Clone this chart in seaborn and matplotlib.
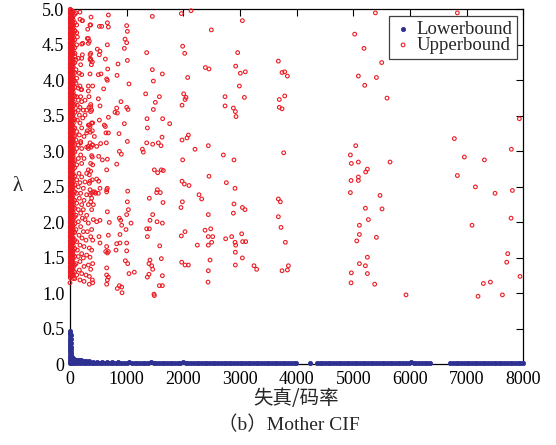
import numpy as np
import pandas as pd
import matplotlib
matplotlib.use("Agg")
import matplotlib.pyplot as plt
import seaborn as sns

RED = "#ED1C24"
BLUE = "#2E3192"

x_ticks = [0, 1000, 2000, 3000, 4000, 5000, 6000, 7000, 8000]
y_ticks = [0, 0.5, 1.0, 1.5, 2.0, 2.5, 3.0, 3.5, 4.0, 4.5, 5.0]
y_tick_labels = ["0", "0.5", "1.0", "1.5", "2.0", "2.5", "3.0", "3.5", "4.0", "4.5", "5.0"]
series_names = ["Lowerbound", "Upperbound"]

# ---- Upperbound: saturated band near distortion/rate = 0 (read column by column)
dense_col_x = [5, 15, 30, 44, 58, 85]
dense_col_a = [5.00, 4.96, 4.93, 4.89, 4.86, 4.82, 4.79, 4.75, 4.72, 4.68, 4.65, 4.61, 4.58, 4.54,
               4.51, 4.47, 4.44, 4.40, 4.37, 4.33, 4.30, 4.26, 4.23, 4.19, 4.16, 4.12, 4.09, 4.05,
               4.02, 3.98, 3.95, 3.91, 3.88, 3.84, 3.81, 3.77, 3.74, 3.70, 3.67, 3.63, 3.60, 3.56,
               3.53, 3.49, 3.46, 3.42, 3.39, 3.35, 3.32, 3.28, 3.25, 3.21, 3.18, 3.14, 3.11, 3.07,
               3.04, 3.00, 2.97, 2.93, 2.90, 2.86, 2.83, 2.79, 2.76, 2.72, 2.69, 2.65, 2.62, 2.58,
               2.55, 2.51, 2.48, 2.44, 2.41, 2.37, 2.34, 2.30, 2.27, 2.23, 2.20, 2.16, 2.13, 2.09,
               2.06, 2.02, 1.99, 1.95, 1.92, 1.88, 1.85, 1.81, 1.78, 1.74, 1.71, 1.67, 1.64, 1.60,
               1.57, 1.53, 1.50, 1.46, 1.43, 1.39, 1.36, 1.32, 1.29, 1.25, 1.22]
dense_col_e = [4.99, 4.94, 4.89, 4.84, 4.79, 4.74, 4.69, 4.64, 4.59, 4.54, 4.49, 4.44, 4.39, 4.34,
               4.29, 4.24, 4.19, 4.14, 4.09, 4.04, 3.99, 3.94, 3.89, 3.84, 3.79, 3.74, 3.69, 3.64,
               3.59, 3.54, 3.49, 3.44, 3.39, 3.34, 3.29, 3.24, 3.19, 3.14, 3.09, 3.04, 2.99, 2.94,
               2.89, 2.84, 2.79, 2.74, 2.69, 2.64, 2.59, 2.54, 2.49, 2.44, 2.39, 2.34, 2.29, 2.24,
               2.19, 2.14, 2.09, 2.04, 1.99, 1.94, 1.89, 1.84, 1.79, 1.74, 1.69, 1.64, 1.59, 1.54,
               1.49, 1.44, 1.39, 1.34, 1.29, 1.24]
dense_col_b = [4.98, 4.94, 4.91, 4.87, 4.84, 4.80, 4.77, 4.73, 4.70, 4.66, 4.63, 4.59, 4.56, 4.52,
               4.49, 4.45, 4.42, 4.38, 4.35, 4.31, 4.28, 4.24, 4.21, 4.17, 4.14, 4.10, 4.07, 4.03,
               4.00, 3.96, 3.93, 3.89, 3.86, 3.82, 3.79, 3.75, 3.72, 3.68, 3.65, 3.61, 3.58, 3.54,
               3.51, 3.47, 3.44, 3.40, 3.37, 3.33, 3.30, 3.26, 3.23, 3.19, 3.16, 3.12, 3.09, 3.05,
               3.02, 2.98, 2.95, 2.91, 2.88, 2.84, 2.81, 2.77, 2.74, 2.70, 2.67, 2.63, 2.60, 2.56,
               2.53, 2.49, 2.46, 2.42, 2.39, 2.35, 2.32, 2.28, 2.25, 2.21, 2.18, 2.14, 2.11, 2.07,
               2.04, 2.00, 1.97, 1.93, 1.90, 1.86, 1.83, 1.79, 1.76, 1.72, 1.69, 1.65, 1.62, 1.58,
               1.55, 1.51, 1.48, 1.44, 1.41, 1.37, 1.34, 1.30, 1.27, 1.24]
dense_col_f = [4.95, 4.88, 4.82, 4.76, 4.69, 4.63, 4.57, 4.50, 4.44, 4.38, 4.31, 4.25, 4.19, 4.12,
               4.06, 4.00, 3.93, 3.87, 3.81, 3.74, 3.68, 3.62, 3.55, 3.49, 3.43, 3.36, 3.30, 3.24,
               3.17, 3.11, 3.05, 2.98, 2.92, 2.86, 2.79, 2.73, 2.67, 2.60, 2.54, 2.48, 2.41, 2.35,
               2.29, 2.22, 2.16, 2.10, 2.03, 1.97, 1.91, 1.84, 1.78, 1.72, 1.65, 1.59, 1.53, 1.46,
               1.40, 1.34, 1.27]
dense_col_c = [4.97, 4.91, 4.85, 4.78, 4.73, 4.66, 4.60, 4.55, 4.48, 4.42, 4.37, 4.30, 4.24, 4.19,
               4.12, 4.06, 4.01, 3.94, 3.88, 3.83, 3.76, 3.70, 3.64, 3.58, 3.52, 3.47, 3.40, 3.34,
               3.29, 3.22, 3.16, 3.11, 3.04, 2.98, 2.93, 2.86, 2.80, 2.75, 2.68, 2.62, 2.57, 2.50,
               2.44, 2.39, 2.32, 2.26, 2.21, 2.14, 2.08, 2.03, 1.96, 1.90, 1.85, 1.78, 1.72, 1.67,
               1.60, 1.54, 1.49, 1.42, 1.36, 1.31, 1.25]
dense_col_d = [4.93, 4.81, 4.70, 4.57, 4.46, 4.34, 4.25, 4.11, 3.99, 3.90, 3.78, 3.66, 3.55, 3.45,
               3.33, 3.22, 3.10, 2.99, 2.87, 2.77, 2.65, 2.53, 2.43, 2.31, 2.20, 2.08, 1.98, 1.86,
               1.75, 1.63, 1.52, 1.40, 1.30, 1.21]
dense_cols_y = [dense_col_a, dense_col_e, dense_col_b, dense_col_f, dense_col_c, dense_col_d]

# ---- Upperbound: individual points
upper_x = [
    176, 371, 677, 218, 365, 518, 559, 659, 677, 1000, 1012, 1453, 1965, 2136, 3042, 2494,
    306, 324, 206, 659, 971, 1000, 959, 482, 529, 518, 353, 353, 365, 624, 206, 1353, 1988, 2024, 2959,
    847, 1012, 377, 665, 547, 500, 353, 647, 659, 830, 1041, 1453, 1630, 1471, 2077, 2389, 2453, 2924,
    3006, 3094, 2989, 3677,
    324, 194, 594, 500, 335, 365, 529, 382, 900, 824, 794, 835, 1000, 1024, 1335, 1506, 1577, 1471,
    2006, 2030, 2047, 1977, 2736, 2736, 2883, 2918, 2930, 3077, 3694, 3694,
    677, 518, 341, 306, 359, 400, 606, 624, 635, 677, 429, 353, 471, 541, 371, 865, 959, 1359, 1635,
    1759, 1365, 871, 906, 1012, 641, 506, 571, 382, 659, 824, 647, 1277, 1294, 1353, 1459, 1559, 1606,
    1624, 1977, 2089, 2065, 2206, 2441, 1988, 2706, 2894, 1647, 1488, 1547, 1612, 2453, 2759, 2912,
    1977, 2018, 2100, 353, 341, 471, 659, 647, 406, 453, 1018, 1541, 1530, 1594, 2277, 2324,
    5389, 6836, 5024, 5189, 3742, 3789, 3836, 5501, 5089, 5407, 5201, 3789, 3742, 5595, 7930, 3771,
    6783, 5042, 4948, 4965, 5089, 5648, 6960, 7313, 7789, 6836, 5248, 5218, 5089, 5089, 4960, 7154,
    7501, 7807, 4948, 5471, 3677,
    3712, 3677, 3724, 3801, 3742, 3836, 3854, 5213, 5507, 5266, 5107, 5107, 5060, 5407, 5248, 5107,
    5213, 4965, 5248, 4960, 5377, 5930, 7095, 7784, 7725, 7707, 7942, 7419, 7295, 7201, 7631,
    1012, 1030, 1000, 871, 894, 912, 988, 1077, 882, 824, 882, 812, 1000, 1000, 977, 1018, 1041, 1135,
    871, 835, 912, 918, 659, 694, 677, 647, 630, 677, 659, 647, 647, 677, 659, 647, 529, 512, 529, 471,
    412, 382, 353, 435, 500, 529, 647, 506, 1353, 1400, 1365, 1400, 1459, 1412, 1536, 1630, 1641, 1583,
    1612, 1412, 1394, 1441, 1459, 1394, 1365, 1577, 1630, 1630, 1482, 1488, 1983, 1959, 2030, 1965,
    1971, 2030, 2089, 2247, 2441, 2383, 2483, 2441, 2518, 2500, 2441, 2471, 2441, 2436, 2894, 2883,
    2747, 2853, 2912, 2924, 2918, 2918, 3042, 3089, 3030, 3047, 3100, 3042, 3247, 3294,
    106, 176, 218, 118, 88, 118, 130, 312, 353, 324, 341, 224, 118, 88, 218, 147, 106, 365, 365, 394,
    188, 106, 165, 206, 118, 106, 176, 147, 206, 188, 118, 147, 130, 206, 265, 324, 400, 335, 365, 176,
    147, 235, 294, 365, 165, 265, 224, 130, 176, 324, 353, 382, 394, 206, 118, 165, 247, 294, 106, 188,
    147, 324, 400, 206, 118,
    188, 294, 394, 188, 147, 247, 394, 324, 206, 118, 365, 400, 324, 159, 294, 365, 206, 118, 394, 176,
    265, 341, 147, 235, 353, 118, 188, 294, 382, 165, 247, 365, 118, 206, 324, 147, 235, 382, 188, 106,
    294, 218, 412, 147, 265, 324, 188, 382, 106, 235, 306, 159, 365, 212, 282, 118, 400, 176, 247, 341,
    130, 206, 382, 294, 147, 235, 353, 176, 400, 324, 106, 247, 165, 365, 206, 118, 282, 341, 176, 394,
    247, 341, 400, 59, 0,
]
upper_y = [
    4.96, 4.89, 4.92, 4.84, 4.78, 4.76, 4.76, 4.81, 4.75, 4.77, 4.69, 4.90, 4.94, 4.98, 4.84, 4.71,
    4.59, 4.52, 4.51, 4.50, 4.58, 4.53, 4.45, 4.44, 4.41, 4.36, 4.36, 4.30, 4.28, 4.30, 4.31, 4.39, 4.48, 4.38, 4.39,
    4.23, 4.28, 4.22, 4.16, 4.09, 4.08, 4.09, 4.02, 4.00, 4.07, 3.95, 4.15, 4.09, 3.99, 4.04, 4.18, 4.16, 4.20,
    4.10, 4.12, 3.92, 4.27,
    3.92, 3.87, 3.88, 3.74, 3.77, 3.66, 3.64, 3.58, 3.70, 3.61, 3.55, 3.54, 3.62, 3.59, 3.81, 3.69, 3.77, 3.59,
    3.81, 3.73, 3.76, 3.65, 3.77, 3.64, 3.61, 3.56, 3.49, 3.76, 3.73, 3.62,
    3.48, 3.44, 3.37, 3.29, 3.27, 3.40, 3.37, 3.35, 3.26, 3.26, 3.21, 3.12, 3.07, 3.11, 3.06, 3.25, 3.39, 3.46, 3.46,
    3.39, 3.33, 3.00, 2.96, 3.14, 3.12, 2.93, 2.88, 2.94, 2.89, 2.82, 2.74, 3.03, 2.99, 3.12, 3.10, 3.12, 3.08,
    3.20, 3.16, 3.23, 3.19, 3.03, 3.08, 2.88, 2.95, 2.88, 2.73, 2.74, 2.70, 2.74, 2.65, 2.56, 2.48,
    2.58, 2.54, 2.52, 2.58, 2.67, 2.61, 2.48, 2.43, 2.43, 2.41, 2.44, 2.46, 2.42, 2.42, 2.39, 2.33,
    4.95, 4.95, 4.65, 4.45, 4.11, 4.12, 4.06, 4.25, 4.06, 4.04, 3.93, 3.78, 3.60, 3.75, 3.46, 2.98,
    3.18, 3.08, 2.95, 2.83, 2.85, 2.85, 2.92, 2.88, 3.03, 2.66, 2.75, 2.71, 2.64, 2.59, 2.59, 2.50,
    2.41, 2.45, 2.42, 2.38, 2.33,
    2.29, 2.08, 1.93, 1.72, 1.32, 1.33, 1.39, 2.20, 2.19, 2.04, 1.96, 1.83, 1.74, 1.79, 1.51, 1.42,
    1.39, 1.29, 1.28, 1.15, 1.13, 0.98, 1.96, 2.06, 1.56, 1.44, 1.24, 1.16, 1.14, 0.96, 0.98,
    2.29, 2.18, 2.11, 2.06, 2.03, 1.96, 1.90, 1.99, 1.83, 1.70, 1.71, 1.61, 1.71, 1.60, 1.46, 1.42, 1.28, 1.30,
    1.11, 1.07, 1.09, 1.01, 2.15, 2.00, 1.82, 1.66, 1.59, 1.59, 1.57, 1.36, 1.26, 1.23, 1.19, 1.13, 1.71, 1.80, 2.03, 2.01,
    2.25, 2.34, 2.39, 2.43, 2.41, 2.48, 2.46, 2.58, 1.91, 1.91, 1.80, 2.34, 2.11, 2.03, 2.01, 1.99, 2.28, 1.67,
    1.49, 1.47, 1.42, 1.39, 1.34, 1.27, 1.23, 1.11, 1.11, 1.25, 0.99, 0.97, 2.29, 2.21, 1.87, 1.81,
    1.44, 1.40, 1.40, 1.68, 2.11, 1.89, 1.91, 1.80, 1.80, 1.72, 1.68, 1.47, 1.32, 1.16, 2.26, 2.13,
    1.77, 1.80, 1.72, 1.68, 1.58, 1.40, 2.21, 2.18, 1.84, 1.73, 1.73, 1.50, 1.39, 1.34,
    4.95, 4.86, 4.84, 4.78, 4.69, 4.67, 4.61, 4.72, 4.78, 4.59, 4.55, 4.52, 4.50, 4.38, 4.36, 4.31, 4.29, 4.38, 4.30, 4.26,
    4.22, 4.15, 4.10, 4.08, 4.03, 3.96, 3.92, 3.89, 3.87, 3.77, 3.77, 3.72, 3.65, 3.70, 3.72, 3.85, 3.92, 3.62, 3.63, 3.62,
    3.58, 3.58, 3.58, 3.56, 3.51, 3.51, 3.47, 3.44, 3.40, 3.37, 3.35, 3.40, 3.29, 3.33, 3.28, 3.23, 3.21, 3.26, 3.16, 3.14,
    3.09, 3.07, 3.09, 3.04, 3.04,
    3.12, 3.06, 3.09, 2.95, 2.90, 2.90, 2.92, 3.04, 2.83, 2.81, 2.83, 2.81, 2.74, 2.69, 2.69, 2.72, 2.64, 2.60, 2.60, 2.56,
    2.57, 2.55, 2.50, 2.48, 2.46, 2.41, 2.41, 2.39, 2.41, 2.34, 2.31, 2.29, 2.27, 2.25, 2.25, 2.18, 2.18, 2.18, 2.13, 2.10,
    2.10, 2.06, 2.04, 2.01, 2.04, 1.99, 1.94, 1.90, 1.90, 1.87, 1.87, 1.82, 1.80, 1.78, 1.75, 1.73, 1.75, 1.68, 1.66, 1.64,
    1.61, 1.56, 1.61, 1.54, 1.52, 1.50, 1.51, 1.45, 1.42, 1.40, 1.42, 1.38, 1.33, 1.34, 1.28, 1.26, 1.26, 1.24, 1.19, 1.19,
    1.17, 1.13, 1.15, 1.21, 1.15,
]

# ---- Lowerbound
lower_x = [
    0, 0, 0, 0, 0, 0, 0, 0, 0, 0, 0, 0, 0, 0, 0, 0,
    10, 10, 10, 10, 10, 10, 10, 10, 20, 20, 20, 20,
    30, 42, 55, 70, 90, 115, 140, 170, 200, 240, 280, 330, 400, 480, 560, 650, 750, 850,
    30, 55, 90, 140, 200,
    45, 95, 140, 190, 240, 285, 335, 380, 430, 475, 525, 570, 620, 665, 715, 760, 810, 855, 905, 950,
    1000, 1045, 1095, 1140, 1190, 1235, 1285, 1330, 1380, 1425, 1475, 1520, 1570, 1615, 1665, 1710,
    1760, 1805, 1855, 1900, 1950, 1995, 2045, 2090, 2140, 2185, 2235, 2280, 2330, 2375, 2425, 2470,
    2520, 2565, 2615, 2660, 2710, 2755, 2805, 2850, 2900, 2945, 2995, 3040, 3090, 3135, 3185, 3230,
    3280, 3325, 3375, 3420, 3470, 3515, 3565, 3610, 3660, 3705, 3755, 3800, 3850, 3895, 3945, 3985,
    4235, 4360, 4405, 4455, 4500, 4550, 4595, 4645, 4690, 4740, 4785, 4835, 4880, 4930, 4975, 5025,
    5070, 5120, 5165, 5215, 5260, 5310, 5355, 5405, 5450, 5500, 5545, 5595, 5640, 5690, 5735, 5785,
    5830, 5880, 5925, 5975, 6020, 6070, 6115, 6165, 6210, 6260, 6305, 6345, 6715, 6760, 6810, 6855,
    6905, 6950, 7000, 7045, 7095, 7140, 7190, 7235, 7285, 7330, 7380, 7425, 7475, 7520, 7570, 7615,
    7665, 7710, 7760, 7805, 7855, 7900, 7950, 7995,
]
lower_y = [
    0.47, 0.44, 0.41, 0.38, 0.35, 0.32, 0.29, 0.26, 0.23, 0.20, 0.17, 0.14, 0.11, 0.08, 0.05, 0.02,
    0.42, 0.36, 0.30, 0.24, 0.18, 0.12, 0.07, 0.02, 0.22, 0.15, 0.08, 0.02,
    0.10, 0.085, 0.08, 0.075, 0.07, 0.07, 0.065, 0.06, 0.06, 0.055, 0.05, 0.045, 0.04, 0.04, 0.035, 0.035, 0.03, 0.03,
    0.05, 0.04, 0.04, 0.035, 0.035,
    0.02, 0.02, 0.02, 0.02, 0.02, 0.02, 0.018, 0.018, 0.018, 0.018, 0.018, 0.018, 0.016, 0.016, 0.016, 0.016, 0.016, 0.016, 0.016, 0.016,
    0.025, 0.03, 0.02, 0.016, 0.016, 0.016, 0.016, 0.016, 0.025, 0.03, 0.025, 0.016, 0.016, 0.016, 0.016, 0.016,
    0.016, 0.016, 0.016, 0.016, 0.025, 0.03, 0.016, 0.016, 0.016, 0.016, 0.016, 0.016, 0.016, 0.025, 0.025, 0.016,
    0.016, 0.016, 0.016, 0.016, 0.016, 0.016, 0.016, 0.016, 0.016, 0.02, 0.016, 0.016, 0.016, 0.016, 0.016, 0.016,
    0.016, 0.016, 0.016, 0.016, 0.016, 0.016, 0.016, 0.016, 0.016, 0.016, 0.016, 0.016, 0.016, 0.016, 0.016, 0.016,
    0.016, 0.016, 0.016, 0.016, 0.016, 0.016, 0.016, 0.016, 0.016, 0.016, 0.016, 0.016, 0.016, 0.016, 0.016, 0.016,
    0.016, 0.016, 0.016, 0.016, 0.016, 0.016, 0.016, 0.016, 0.016, 0.016, 0.016, 0.016, 0.016, 0.016, 0.016, 0.016,
    0.016, 0.016, 0.016, 0.025, 0.03, 0.025, 0.016, 0.016, 0.025, 0.016, 0.016, 0.016, 0.016, 0.016, 0.016, 0.016,
    0.016, 0.016, 0.02, 0.016, 0.016, 0.016, 0.016, 0.016, 0.016, 0.016, 0.016, 0.016, 0.016, 0.016, 0.016, 0.016,
    0.016, 0.016, 0.016, 0.016, 0.016, 0.016, 0.016, 0.016,
]

# ---- build tables
dense_x_all, dense_y_all = [], []
for cx, cy in zip(dense_col_x, dense_cols_y):
    dense_x_all += [cx] * len(cy)
    dense_y_all += cy
upper_df = pd.DataFrame({"x": dense_x_all + upper_x, "y": dense_y_all + upper_y})
lower_df = pd.DataFrame({"x": lower_x, "y": lower_y})

sns.set_theme(style="white")
plt.rcParams["font.family"] = ["Liberation Serif", "Noto Sans CJK SC"]

fig = plt.figure(figsize=(5.56, 4.45), dpi=100)
ax = fig.add_axes([0.1259, 0.1809, 0.8153, 0.7982])

sns.scatterplot(data=upper_df, x="x", y="y", ax=ax, marker="o", s=7, color=RED,
                facecolor="none", edgecolor=RED, linewidth=0.8, clip_on=False,
                label=series_names[1], zorder=3)
sns.scatterplot(data=lower_df, x="x", y="y", ax=ax, marker="o", s=9, color=BLUE,
                edgecolor=BLUE, linewidth=0.6, clip_on=False,
                label=series_names[0], zorder=3)

ax.set_xlim(0, 8000)
ax.set_ylim(0, 5)
ax.set_xticks(x_ticks)
ax.set_xticklabels([str(t) for t in x_ticks])
ax.set_yticks(y_ticks)
ax.set_yticklabels(y_tick_labels)
ax.set_xlabel("")
ax.set_ylabel("")
ax.tick_params(direction="in", top=True, right=True, length=5, width=0.8,
               labelsize=13, colors="black", pad=4)
ax.tick_params(axis="x", pad=5)
for sp in ax.spines.values():
    sp.set_visible(True)
    sp.set_color("black")
    sp.set_linewidth(0.9)

handles, labels = ax.get_legend_handles_labels()
order = [labels.index(n) for n in series_names]
leg = ax.legend([handles[i] for i in order], [labels[i] for i in order],
                loc="upper right", fontsize=13.5, frameon=True, fancybox=False,
                framealpha=1, edgecolor="#404040", borderaxespad=0.35,
                handletextpad=0.2, handlelength=1.0, labelspacing=-0.05,
                borderpad=0.25)
leg.get_frame().set_linewidth(0.9)

fig.text(0.032, 0.582, "λ", fontsize=15, ha="center", va="center",
         family=["Liberation Serif", "DejaVu Serif"])
fig.text(0.533, 0.105, "失真/码率", fontsize=14, ha="center", va="center",
         family=["Noto Sans CJK SC"])
fig.text(0.52, 0.045, "（b）Mother CIF", fontsize=14, ha="center", va="center",
         family=["Liberation Serif", "Noto Sans CJK SC"])

fig.savefig("out.png", dpi=100)
